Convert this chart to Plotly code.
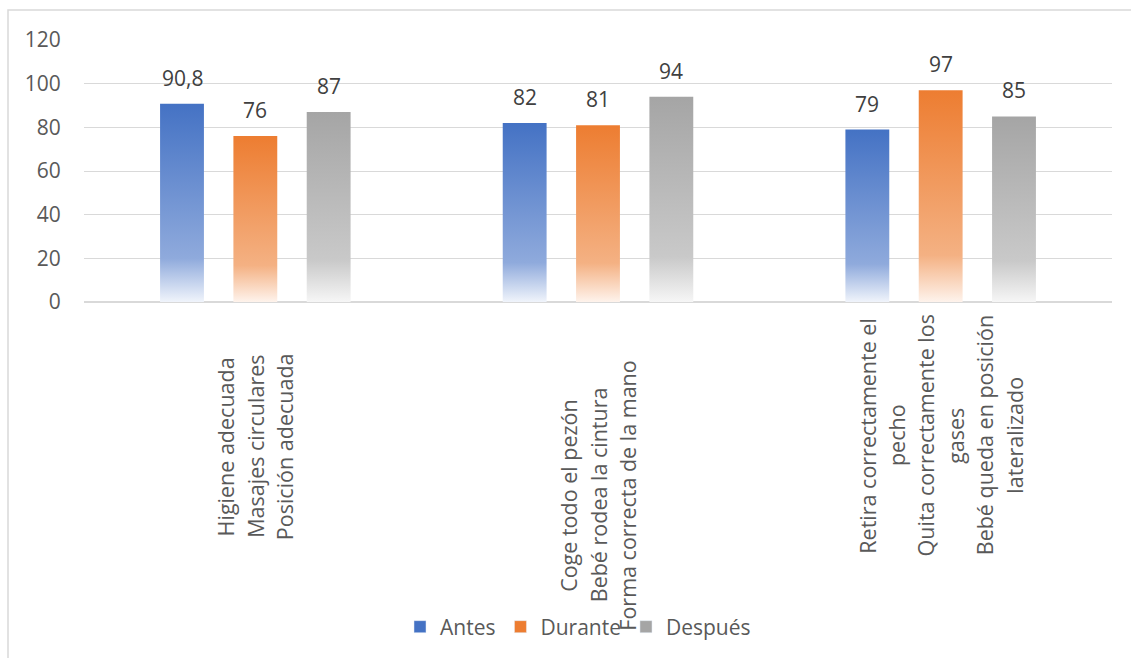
import plotly.graph_objects as go

# ---------------- data ----------------
series_names = ["Antes", "Durante", "Después"]
antes = [90.8, 82, 79]
durante = [76, 81, 97]
despues = [87, 94, 85]
category_lines = [
    ["Higiene adecuada", "Masajes circulares", "Posición adecuada"],
    ["Coge todo el pezón", "Bebé rodea la cintura", "Forma correcta de la mano"],
    ["Retira correctamente el", "pecho", "Quita correctamente los", "gases",
     "Bebé queda en posición", "lateralizado"],
]
y_ticks = [0, 20, 40, 60, 80, 100, 120]

# ---------------- style ----------------
FONT = "Open Sans"
W, H = 1131, 658
ML, MR, MT, MB = 84, 19, 40, 355
PW, PH = W - ML - MR, H - MT - MB
base_cols = ["#4472C4", "#ED7D31", "#A5A5A5"]
mid_cols = ["#8FAADC", "#F4B183", "#C9C9C9"]
light_cols = ["#F0F4FB", "#FEF3EC", "#F6F6F6"]
slot = 0.214      # distance between bars in a group (category units)
bar_w = 0.128     # bar width (category units)
label_center_px = [448, 497, 437]
line_step_px = 29.4

def px_x(p):
    return (p - ML) / PW

def px_y(p):
    return (H - MB - p) / PH

values = [antes, durante, despues]
fig = go.Figure()

for s, (name, vals) in enumerate(zip(series_names, values)):
    for c, v in enumerate(vals):
        cx = c + (s - 1) * slot
        x0, x1 = cx - bar_w / 2, cx + bar_w / 2
        fig.add_trace(go.Scatter(
            x=[x0, x1, x1, x0, x0], y=[0, 0, v, v, 0],
            mode="lines", fill="toself",
            line=dict(width=0, color=base_cols[s]),
            fillgradient=dict(
                type="vertical", start=0, stop=v,
                colorscale=[[0, light_cols[s]], [0.22, mid_cols[s]], [1, base_cols[s]]],
            ),
            hoverinfo="skip", showlegend=False,
        ))
        fig.add_annotation(
            x=cx, y=v, xref="x", yref="y", yanchor="bottom", yshift=10,
            text=f"{v:g}".replace(".", ","), showarrow=False,
            font=dict(family=FONT, size=21, color="#404040"),
        )
    # legend entry
    fig.add_trace(go.Bar(x=[None], y=[None], name=name,
                         marker=dict(color=base_cols[s]), hoverinfo="skip"))

for c, lines in enumerate(category_lines):
    n = len(lines)
    for j, line in enumerate(lines):
        fig.add_annotation(
            x=c, xref="x", y=px_y(label_center_px[c]), yref="paper",
            xshift=(j - (n - 1) / 2) * line_step_px,
            text=line, textangle=-90, showarrow=False,
            xanchor="center", yanchor="middle",
            font=dict(family=FONT, size=21.5, color="#595959"),
        )

# outer chart border
fig.add_shape(type="rect", xref="paper", yref="paper",
              x0=px_x(8), x1=px_x(W + 20), y0=px_y(H + 20), y1=px_y(10),
              line=dict(color="#D9D9D9", width=1.5), fillcolor="rgba(0,0,0,0)", layer="below")

fig.update_layout(
    width=W, height=H,
    margin=dict(l=ML, r=MR, t=MT, b=MB),
    paper_bgcolor="white", plot_bgcolor="white",
    font=dict(family=FONT, size=21, color="#595959"),
    showlegend=True,
    legend=dict(orientation="h", x=px_x(578), xanchor="center",
                y=px_y(627), yanchor="middle",
                font=dict(family=FONT, size=21, color="#595959"),
                bgcolor="rgba(0,0,0,0)"),
    xaxis=dict(range=[-0.5, 2.5], showticklabels=False, showgrid=False,
               zeroline=False, showline=False, fixedrange=True),
    yaxis=dict(range=[0, 120], tickvals=y_ticks, showgrid=True,
               gridcolor="#D9D9D9", gridwidth=1, zeroline=True,
               zerolinecolor="#D9D9D9", zerolinewidth=1.5, showline=False,
               ticks="outside", ticklen=18, tickcolor="rgba(0,0,0,0)",
               tickfont=dict(family=FONT, size=21, color="#595959")),
)

fig.write_html("out.html")
